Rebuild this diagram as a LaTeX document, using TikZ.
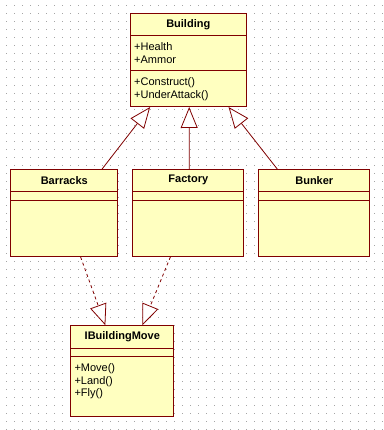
\documentclass[tikz,border=0pt]{standalone}
\usepackage{fontspec}
\setmainfont{Liberation Sans}
\usetikzlibrary{arrows.meta,calc}
\definecolor{umlfill}{RGB}{255,255,192}
\definecolor{umlline}{RGB}{128,0,0}
\definecolor{griddot}{RGB}{165,165,165}
\tikzset{
  classbox/.style={draw=umlline, fill=umlfill, line width=1pt, anchor=north west, inner sep=0pt},
  classrule/.style={draw=umlline, line width=1pt},
  classtitle/.style={inner sep=0pt, font=\bfseries\fontsize{11}{12.7}\selectfont},
  members/.style={anchor=north west, align=left, inner sep=0pt, font=\fontsize{11}{12.7}\selectfont},
  gen/.style={draw=umlline, line width=0.8pt, -{Triangle[length=21pt,width=17pt,fill=white]}},
  real/.style={gen, dash pattern=on 3pt off 3pt},
}
% class box: name, corner, width, height, title, title rule, attribute rule
\newcommand{\umlclass}[7]{%
  \node[classbox, minimum width=#3pt, minimum height=#4pt] (#1) at (#2) {};
  \node[classtitle] (#1-name) at ($(#1.north)+(0,#6/2)$) {#5};
  \draw[classrule] ($(#1.north west)+(0,#6)$) -- ($(#1.north east)+(0,#6)$);
  \draw[classrule] ($(#1.north west)+(0,#7)$) -- ($(#1.north east)+(0,#7)$);
}
\begin{document}
\begin{tikzpicture}[x=1pt,y=-1pt]
\fill[white] (0,0) rectangle (383,430);
\useasboundingbox (0,0) rectangle (383,430);
% dotted grid
\foreach \i in {0,...,47}
  \foreach \j in {0,...,53}
    \fill[griddot] (6+8*\i,5.3+8*\j) rectangle ++(1,1);

\umlclass{building}{130,13.3}{115.5}{92.7}{Building}{22.4}{57}
\node[members] (building-attrs) at ($(building.north west)+(4,29)$) {+Health\\+Ammor};
\node[members] (building-ops) at ($(building.north west)+(4,64.3)$) {+Construct()\\+UnderAttack()};

\umlclass{barracks}{10.3,169.3}{107}{86.7}{Barracks}{21.7}{30.7}
\umlclass{factory}{132.3,169.3}{111}{86.7}{Factory}{21.7}{30.7}
\umlclass{bunker}{258.3,169.3}{111}{86.7}{Bunker}{21.7}{30.7}

\umlclass{move}{70.3,325.3}{103}{90.4}{IBuildingMove}{22.7}{31.4}
\node[members] (move-ops) at ($(move.north west)+(4,38)$) {+Move()\\+Land()\\+Fly()};

% generalization
\draw[gen] ($(barracks.north west)!0.848!(barracks.north east)$) -- ($(building.south west)!0.173!(building.south east)$);
\draw[gen] ($(factory.north west)!0.508!(factory.north east)$) -- ($(building.south west)!0.508!(building.south east)$);
\draw[gen] ($(bunker.north west)!0.171!(bunker.north east)$) -- ($(building.south west)!0.846!(building.south east)$);
% realization
\draw[real] ($(barracks.south west)!0.651!(barracks.south east)$) -- ($(move.north west)!0.337!(move.north east)$);
\draw[real] ($(factory.south west)!0.34!(factory.south east)$) -- ($(move.north west)!0.693!(move.north east)$);
\end{tikzpicture}
\end{document}
